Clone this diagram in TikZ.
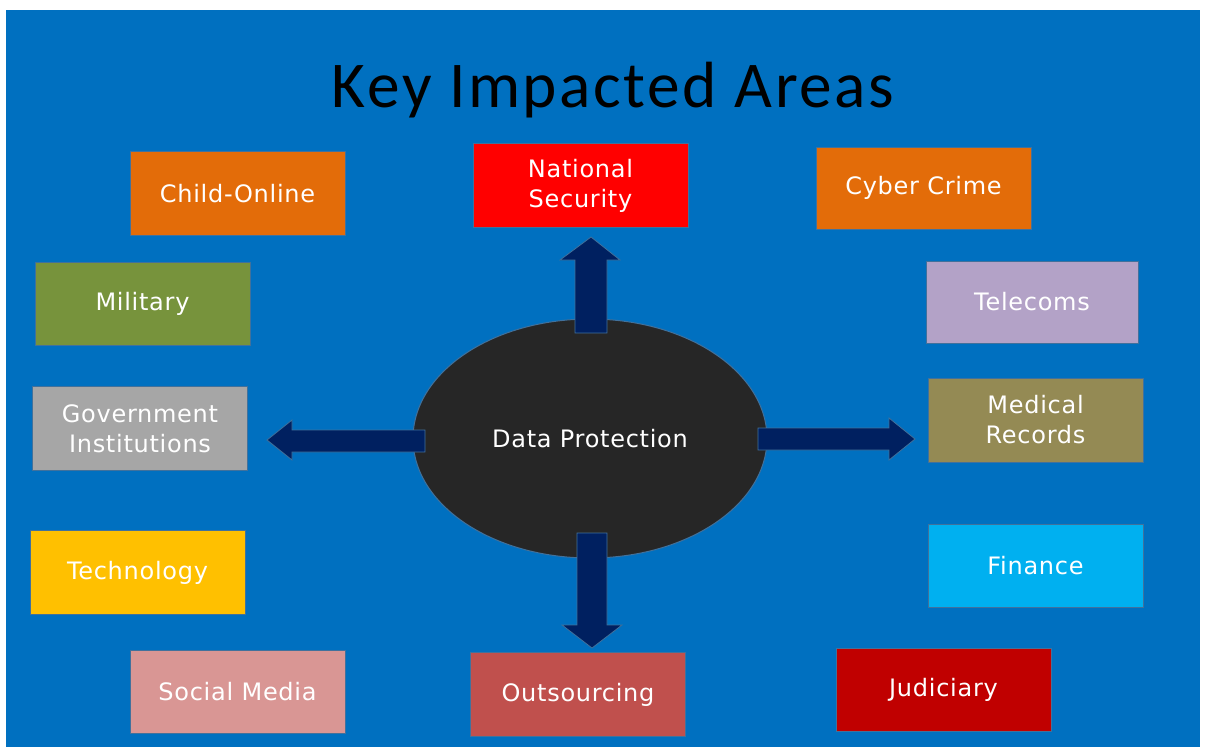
\documentclass[tikz,border=0pt]{standalone}
\usepackage{fontspec}
\usetikzlibrary{shapes.geometric}
\newfontfamily\boxfont{DejaVu Sans}[LetterSpace=3]
\newfontfamily\titlefont{Carlito}[LetterSpace=4]
\definecolor{bgblue}{HTML}{0070C0}
\definecolor{edge}{HTML}{41719C}
\definecolor{navy}{HTML}{002060}
\definecolor{dark}{HTML}{262626}
\definecolor{corange}{HTML}{E36C09}
\definecolor{cred}{HTML}{FF0000}
\definecolor{cgreen}{HTML}{77933C}
\definecolor{clilac}{HTML}{B3A2C7}
\definecolor{cgray}{HTML}{A6A6A6}
\definecolor{colive}{HTML}{948A54}
\definecolor{cgold}{HTML}{FFC000}
\definecolor{ccyan}{HTML}{00B0F0}
\definecolor{cpink}{HTML}{D99694}
\definecolor{cbrick}{HTML}{C0504D}
\definecolor{cdarkred}{HTML}{C00000}
\begin{document}
\begin{tikzpicture}[x=0.75pt,y=-0.75pt,
  box/.style={draw=edge, line width=0.75pt, minimum width=161.25pt, minimum height=63pt,
    inner sep=0pt, align=center, text=white,
    font=\boxfont\fontsize{18}{22.5}\selectfont},
  blockarrow/.style={fill=navy, draw=edge, line width=0.6pt}]
\useasboundingbox (0,0) rectangle (1205,747);
\fill[white] (0,0) rectangle (1205,747);
\fill[bgblue] (6,10) rectangle (1200,747);

\node[anchor=base, font=\titlefont\fontsize{49}{60}\selectfont, text=black] (title) at (613,107) {Key Impacted Areas};

% centre
\node[ellipse, fill=dark, draw=edge, line width=0.75pt, minimum width=265.5pt, minimum height=179.25pt,
  text=white, font=\boxfont\fontsize{18}{22.5}\selectfont] (dp) at (590,438.5) {Data Protection};

% block arrows
\draw[blockarrow] (575,333) -- (575,260) -- (560,260) -- (591,237) -- (620,260) -- (607,260) -- (607,333) -- cycle;
\draw[blockarrow] (577,533) -- (577,625) -- (562,625) -- (592,648) -- (622,625) -- (607,625) -- (607,533) -- cycle;
\draw[blockarrow] (758,428) -- (889,428) -- (889,418) -- (915,439) -- (889,460) -- (889,450) -- (758,450) -- cycle;
\draw[blockarrow] (425,430) -- (292,430) -- (292,420) -- (267,440) -- (292,460) -- (292,452) -- (425,452) -- cycle;

% boxes
\node[box, fill=corange] (child) at (237.5,193.5) {Child-Online};
\node[box, fill=cred] (natsec) at (580.5,185.5) {National\\Security};
\node[box, fill=corange, minimum height=61.5pt] (cyber) at (923.5,188) {Cyber Crime};
\node[box, fill=cgreen, minimum height=62.25pt] (military) at (142.5,303.5) {Military};
\node[box, fill=clilac, minimum width=159pt, minimum height=61.5pt] (telecoms) at (1032,302) {Telecoms};
\node[box, fill=cgray] (gov) at (140,428.5) {Government\\Institutions};
\node[box, fill=colive] (medical) at (1035.5,420) {Medical\\Records};
\node[box, fill=cgold] (tech) at (137.5,572.5) {Technology};
\node[box, fill=ccyan, minimum height=62.25pt] (finance) at (1035.5,565.5) {Finance};
\node[box, fill=cpink, minimum height=62.25pt] (social) at (237.5,691.5) {Social Media};
\node[box, fill=cbrick] (outsourcing) at (578,694.5) {Outsourcing};
\node[box, fill=cdarkred, minimum height=62.25pt] (judiciary) at (943.5,690) {Judiciary};
\end{tikzpicture}
\end{document}
